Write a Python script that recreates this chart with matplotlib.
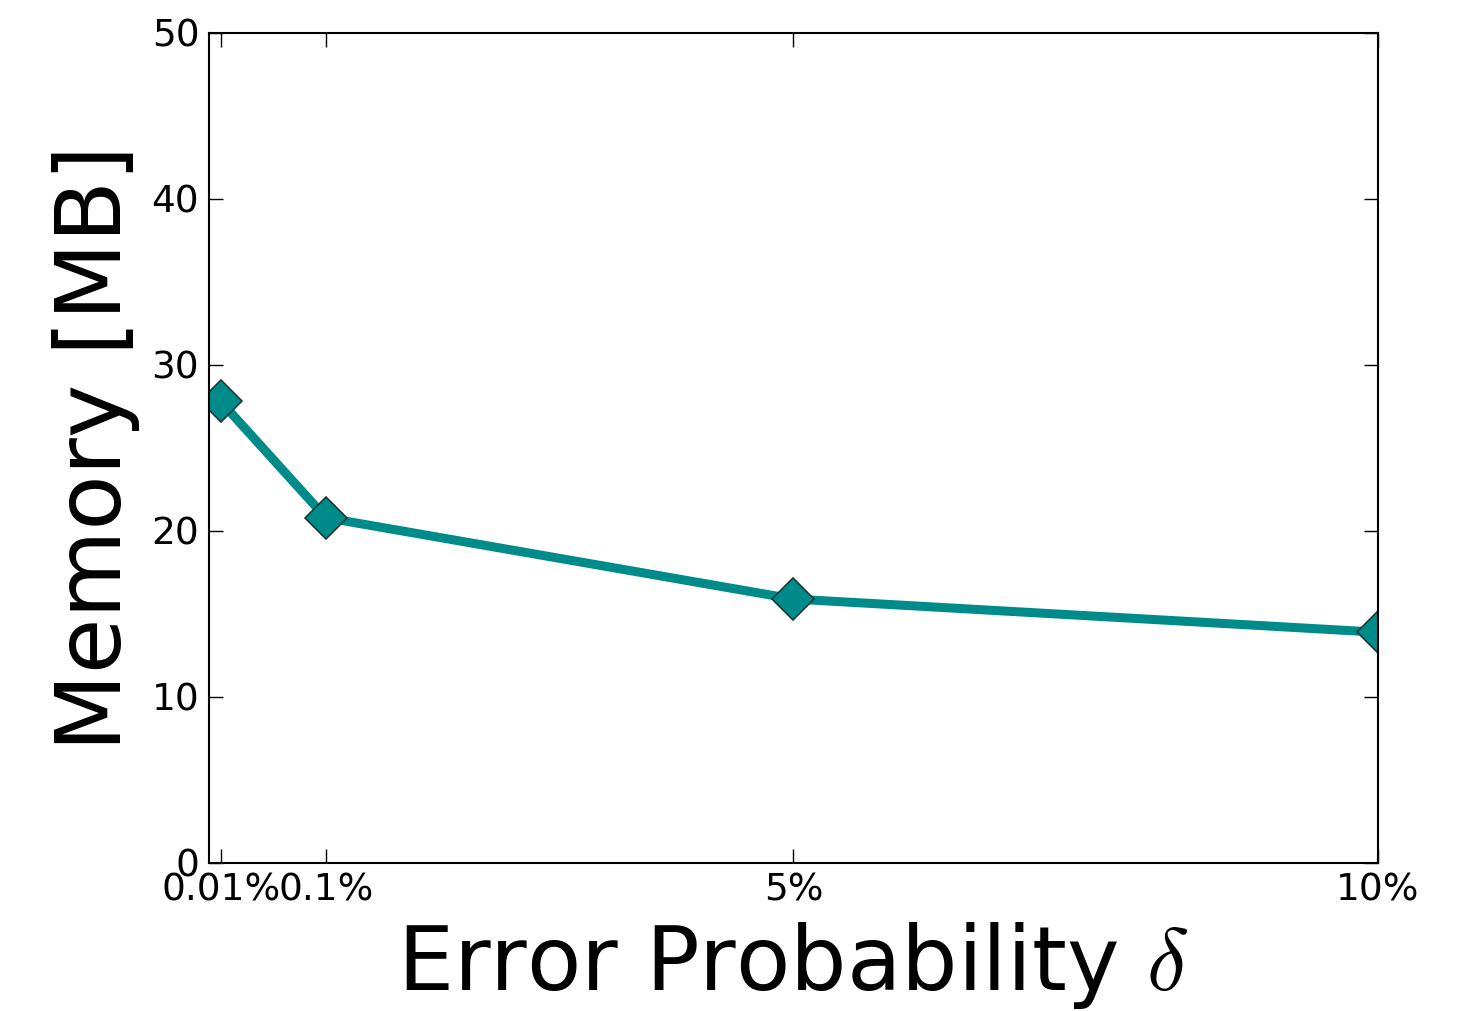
import matplotlib
matplotlib.use("Agg")
import matplotlib.pyplot as plt

# data
x_pos = [0.1, 1, 5, 10]
tick_labels = ["0.01%", "0.1%", "5%", "10%"]
memory_mb = [27.8, 20.8, 15.9, 13.9]

plt.rcParams['mathtext.fontset'] = 'cm'

fig = plt.figure(figsize=(14.76, 10.11), dpi=100)
ax = fig.add_axes([0.1416, 0.1464, 0.7920, 0.8210])

ax.plot(x_pos, memory_mb, color='#008b8b', linewidth=6.5,
        marker='D', markersize=21, markerfacecolor='#008b8b',
        markeredgecolor='#1a3a3a', markeredgewidth=1.2)

ax.set_xlim(0, 10)
ax.set_ylim(0, 50)
ax.set_xticks(x_pos)
ax.set_xticklabels(tick_labels)
ax.set_yticks([0, 10, 20, 30, 40, 50])

ax.tick_params(direction='in', length=10, width=1, labelsize=27,
               top=True, right=True, pad=7)
for s in ax.spines.values():
    s.set_linewidth(1.5)

ax.set_xlabel(r"Error Probability $\delta$", fontsize=64, labelpad=8)
ax.set_ylabel("Memory [MB]", fontsize=65, labelpad=8)

fig.savefig("out.png", dpi=100)
